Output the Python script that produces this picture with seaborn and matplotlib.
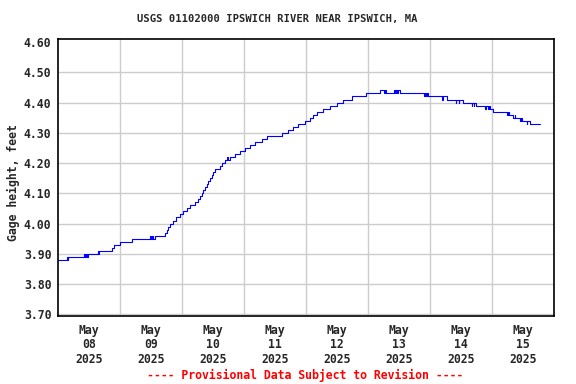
import pandas as pd
import seaborn as sns
import matplotlib.pyplot as plt

# Gage height readings (step changes), hours after 2025-05-08 00:00
hours = [0.0, 3.4, 3.6, 3.9, 10.1, 10.4, 10.8, 11.1, 11.4, 15.2, 15.5, 15.8,
         20.9, 21.6, 24.0, 28.4, 35.5, 35.8, 36.2, 36.5, 37.4, 41.3, 42.0,
         42.6, 43.2, 44.5, 45.5, 47.1, 48.4, 49.8, 51.0, 52.9, 54.2, 54.8,
         55.5, 56.2, 56.8, 57.4, 58.1, 58.7, 59.4, 60.0, 60.7, 62.6, 63.4,
         64.6, 65.3, 65.6, 66.3, 68.5, 70.3, 72.3, 74.2, 76.1, 78.7, 80.6,
         86.5, 89.0, 91.0, 92.9, 95.5, 97.5, 98.6, 100.0, 102.6, 105.2, 107.8,
         110.3, 113.5, 119.1, 124.5, 126.0, 126.3, 126.8, 130.0, 130.3, 130.6,
         131.2, 131.5, 132.3, 141.5, 141.8, 142.4, 142.7, 143.1, 148.6, 149.0,
         150.5, 153.8, 154.1, 155.0, 155.3, 156.8, 160.0, 160.3, 160.8, 161.1,
         161.5, 165.2, 165.5, 166.3, 166.6, 167.2, 168.4, 173.6, 174.2, 174.5,
         176.1, 176.6, 176.9, 178.7, 179.2, 179.5, 181.3, 181.6, 182.6, 186.5]
gage_ft = [3.88, 3.89, 3.88, 3.89, 3.90, 3.89, 3.90, 3.89, 3.90, 3.91, 3.90, 3.91,
           3.92, 3.93, 3.94, 3.95, 3.96, 3.95, 3.96, 3.95, 3.96, 3.97, 3.98,
           3.99, 4.00, 4.01, 4.02, 4.03, 4.04, 4.05, 4.06, 4.07, 4.08, 4.09,
           4.10, 4.11, 4.12, 4.13, 4.14, 4.15, 4.16, 4.17, 4.18, 4.19, 4.20,
           4.21, 4.22, 4.21, 4.22, 4.23, 4.24, 4.25, 4.26, 4.27, 4.28, 4.29,
           4.30, 4.31, 4.32, 4.33, 4.34, 4.35, 4.36, 4.37, 4.38, 4.39, 4.40,
           4.41, 4.42, 4.43, 4.44, 4.43, 4.44, 4.43, 4.44, 4.43, 4.44,
           4.43, 4.44, 4.43, 4.42, 4.43, 4.42, 4.43, 4.42, 4.41, 4.42,
           4.41, 4.40, 4.41, 4.40, 4.41, 4.40, 4.39, 4.40, 4.39, 4.40,
           4.39, 4.38, 4.39, 4.38, 4.39, 4.38, 4.37, 4.36, 4.37, 4.36,
           4.35, 4.36, 4.35, 4.34, 4.35, 4.34, 4.33, 4.34, 4.33, 4.33]

days = pd.date_range('2025-05-08', '2025-05-16', freq='D')
y_ticks = [3.70, 3.80, 3.90, 4.00, 4.10, 4.20, 4.30, 4.40, 4.50, 4.60]

start = pd.Timestamp('2025-05-08')
df = pd.DataFrame({'time': start + pd.to_timedelta(hours, unit='h'),
                   'gage': gage_ft})

sns.set_style('white')
plt.rcParams['font.family'] = ['DejaVu Sans Mono']
plt.rcParams['font.weight'] = 'bold'

fig = plt.figure(figsize=(5.76, 3.84), dpi=100)
ax = fig.add_axes([58.3 / 576, 1 - 315.5 / 384, 496 / 576, 276.2 / 384])

sns.lineplot(data=df, x='time', y='gage', ax=ax, color='#0000ff',
             linewidth=0.8, drawstyle='steps-post', estimator=None)

ax.set_xlim(days[0], days[-1])
ax.set_ylim(3.696, 4.609)

noons = days[:-1] + pd.Timedelta(hours=12)
ax.set_xticks(noons)
ax.set_xticklabels([f"{d:%b}\n{d:%d}\n{d:%Y}" for d in noons],
                   fontsize=8.3, fontweight='bold', linespacing=1.15)
ax.set_xticks(days[1:-1], minor=True)
ax.set_yticks(y_ticks)
ax.set_yticklabels([f"{v:.2f}" for v in y_ticks], fontsize=8.3, fontweight='bold')

ax.grid(False)
ax.grid(True, which='minor', axis='x', color='#cccccc', linewidth=1)
ax.grid(True, which='major', axis='y', color='#cccccc', linewidth=1)
# top gridline sits right under the frame in the original, hide it
ax.get_ygridlines()[-1].set_visible(False)
ax.set_axisbelow(True)
ax.tick_params(axis='both', which='both', length=0)
ax.tick_params(axis='x', pad=6)
ax.tick_params(axis='y', pad=5)
for s in ax.spines.values():
    s.set_color('black')
    s.set_linewidth(1.2)

ax.set_xlabel('')
ax.set_ylabel('')
fig.text(13 / 576, 1 - 182.5 / 384, 'Gage height, feet', rotation=90,
         ha='center', va='center', fontsize=8.3, fontweight='bold')
fig.text(277.5 / 576, 1 - 19 / 384, 'USGS 01102000 IPSWICH RIVER NEAR IPSWICH, MA',
         ha='center', va='center', fontsize=7.6, fontweight='bold')
fig.text(305 / 576, 1 - 375 / 384, '---- Provisional Data Subject to Revision ----',
         ha='center', va='center', fontsize=8.3, fontweight='bold', color='#ff0000')

fig.savefig('out.png', dpi=100, facecolor='white')
